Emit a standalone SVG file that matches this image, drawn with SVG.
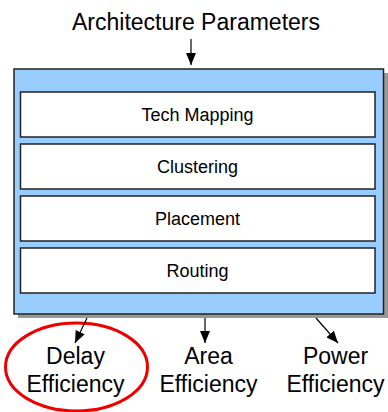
<svg xmlns="http://www.w3.org/2000/svg" width="388" height="412" viewBox="0 0 388 412">
<style>
text{font-family:"Liberation Sans",Arial,sans-serif;fill:#000;text-anchor:middle}
.big{font-size:23px}
.step{font-size:18px}
.inner{fill:#fff;stroke:#222;stroke-width:1.5}
.conn{stroke:#000;stroke-width:1.2;fill:none}
</style>
<defs>
<marker id="arr" viewBox="0 0 12 10" refX="12" refY="5" markerWidth="12" markerHeight="10" markerUnits="userSpaceOnUse" orient="auto">
<path d="M0,0 L12,5 L0,10 z" fill="#000"/>
</marker>
</defs>
<g id="title"><text class="big" x="196" y="30">Architecture Parameters</text></g>
<g id="flow">
<rect x="18" y="73" width="370" height="245" fill="#999"/>
<rect x="14" y="69" width="369.5" height="245" fill="#99ccff" stroke="#222" stroke-width="1.5"/>
</g>
<g id="techmapping"><rect class="inner" x="20.5" y="92" width="354.5" height="45"/><text class="step" x="197.5" y="121">Tech Mapping</text></g>
<g id="clustering"><rect class="inner" x="20.5" y="144" width="354.5" height="45"/><text class="step" x="197.5" y="173">Clustering</text></g>
<g id="placement"><rect class="inner" x="20.5" y="196" width="354.5" height="45"/><text class="step" x="197.5" y="225">Placement</text></g>
<g id="routing"><rect class="inner" x="20.5" y="248" width="354.5" height="45"/><text class="step" x="197.5" y="277">Routing</text></g>
<g id="delay"><ellipse cx="76.5" cy="367" rx="71" ry="44" fill="none" stroke="#e00" stroke-width="3"/><text class="big" x="75.5" y="364">Delay</text><text class="big" x="75.5" y="392">Efficiency</text></g>
<g id="area"><text class="big" x="208.5" y="364">Area</text><text class="big" x="208.5" y="392">Efficiency</text></g>
<g id="power"><text class="big" x="335.5" y="364">Power</text><text class="big" x="335.5" y="392">Efficiency</text></g>
<g id="connectors">
<line class="conn" x1="191" y1="39" x2="191" y2="65" marker-end="url(#arr)"/>
<line class="conn" x1="87" y1="318" x2="75" y2="343" marker-end="url(#arr)"/>
<line class="conn" x1="205" y1="318" x2="205" y2="343" marker-end="url(#arr)"/>
<line class="conn" x1="316" y1="318" x2="338" y2="343" marker-end="url(#arr)"/>
</g>
</svg>
